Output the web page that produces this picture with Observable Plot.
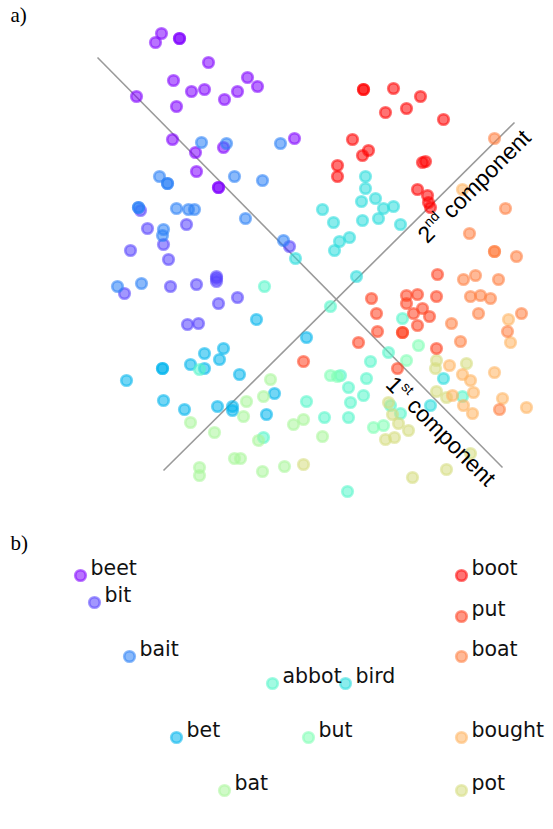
<!DOCTYPE html>
<html><head><meta charset="utf-8">
<script src="https://cdn.jsdelivr.net/npm/d3@7"></script>
<script src="https://cdn.jsdelivr.net/npm/@observablehq/plot@0.6"></script>
<style>
body{margin:0;background:#fff;}
#chart{width:553px;}
#chart svg{display:block;background:#fff;}
</style></head><body><div id="chart"></div>
<script>
// vowel categories (matplotlib "rainbow" order) and their colours
const vowels = ["beet","bit","bait","bet","bird","abbot","but","bat","pot","bought","boat","put","boot"];
const vowelColors = ["#8000ff","#5542fd","#2a80f6","#00b4ec","#2adddd","#55f6ca","#80ffb4","#aaf69b","#d5dd80","#ffb462","#ff8042","#ff4221","#ff0000"];

// panel a: individual tokens, [horizontal, vertical]
const beetTokens = [[161,33],[155,42],[179,38],[179,38],[208,62],[173,80],[191,91],[204,89],[247,77],[257,86],[237,91],[224,99],[176,106],[136,96],[172,139],[195,152],[223,147],[294,138],[196,171],[218,187],[218,187]];
const bitTokens = [[147,228],[130,250],[124,293],[163,244],[168,259],[186,224],[140,210],[170,286],[196,284],[216,276],[216,281],[216,278],[237,297],[218,303],[187,324],[198,323],[289,246]];
const baitTokens = [[201,142],[226,143],[280,143],[159,176],[167,183],[167,183],[234,176],[262,180],[138,207],[138,207],[176,208],[188,209],[194,209],[245,218],[163,229],[162,235],[283,240],[117,286],[141,283]];
const betTokens = [[256,319],[306,337],[126,380],[162,368],[162,368],[190,364],[204,353],[223,348],[219,359],[204,368],[239,374],[163,400],[184,409],[217,406],[232,406],[232,410],[274,393],[266,414]];
const birdTokens = [[365,176],[365,188],[361,201],[375,198],[383,208],[393,206],[322,209],[333,222],[362,220],[378,218],[400,224],[349,237],[339,241],[334,250],[356,276],[295,258],[443,378],[430,405]];
const abbotTokens = [[264,286],[199,369],[306,401],[263,437],[324,417],[330,306],[402,318],[388,352],[370,361],[366,378],[348,387],[363,395],[350,402],[348,417],[347,491],[390,405],[400,413],[462,396],[340,375]];
const butTokens = [[330,375],[337,376],[406,360],[418,345],[373,427],[383,425]];
const batTokens = [[270,379],[263,396],[246,401],[243,416],[190,422],[214,432],[258,440],[293,424],[303,419],[322,436],[234,458],[240,458],[199,467],[199,475],[262,471],[284,466]];
const potTokens = [[303,464],[436,360],[435,368],[466,363],[436,391],[446,397],[385,439],[394,437],[398,423],[408,430],[470,453],[446,469],[412,477],[388,402],[392,414]];
const boughtTokens = [[449,365],[462,374],[470,380],[473,392],[463,405],[472,413],[452,395],[494,372],[502,398],[526,407],[508,319],[510,342],[462,189]];
const boatTokens = [[494,138],[505,208],[469,233],[494,251],[494,251],[516,256],[463,279],[475,275],[498,279],[470,296],[480,295],[490,298],[478,313],[451,323],[460,341],[507,331],[521,313],[499,409]];
const putTokens = [[371,298],[376,313],[377,331],[406,295],[406,303],[417,294],[436,296],[413,313],[422,308],[429,316],[417,325],[402,332],[402,332],[358,342],[436,348],[397,368],[437,274],[303,361]];
const bootTokens = [[363,89],[363,89],[393,88],[420,96],[406,108],[385,112],[443,119],[352,139],[368,150],[362,155],[337,165],[337,176],[422,162],[425,161],[417,189],[427,195],[428,202],[430,207]];
const tokenSets = [beetTokens,bitTokens,baitTokens,betTokens,birdTokens,abbotTokens,butTokens,batTokens,potTokens,boughtTokens,boatTokens,putTokens,bootTokens];

// panel a: the two principal-component axes (end points) and their labels
const axisStart = [[97,57],[163,470]];
const axisEnd = [[502,467],[514,122]];
const axisNames = ["1st component","2nd component"];
const axisLabelAt = [[440,431],[474,186]];
const axisLabelAngle = [45,-45];

// panel b: vowel centroids
const centroidX = [80,94,129,176,345,272,308,224,461,461,461,461,461];
const centroidY = [575,602,656,737,683,683,737,790,790,737,656,616,575];

// ---- build tables
const tokens = tokenSets.flatMap((set, i) => set.map(([x, y]) => ({vowel: vowels[i], x, y})));
const axes = axisStart.map((s, i) => ({x1: s[0], y1: s[1], x2: axisEnd[i][0], y2: axisEnd[i][1]}));
const axisLabels = axisNames.map((t, i) => ({text: t, x: axisLabelAt[i][0], y: axisLabelAt[i][1], angle: axisLabelAngle[i]}));
const centroids = vowels.map((v, i) => ({vowel: v, x: centroidX[i], y: centroidY[i]}));

const color = {domain: vowels, range: vowelColors};
const dotStyle = {r: 5.3, fill: "vowel", stroke: "vowel", fillOpacity: 0.55, strokeOpacity: 0.55, strokeWidth: 2.6};

const panelA = Plot.plot({
  width: 553, height: 505, margin: 0,
  x: {domain: [0, 553], axis: null},
  y: {domain: [0, 505], reverse: true, axis: null},
  color,
  marks: [
    Plot.link(axes, {x1: "x1", y1: "y1", x2: "x2", y2: "y2", stroke: "#9a9a9a", strokeWidth: 1.6}),
    Plot.dot(tokens, {x: "x", y: "y", ...dotStyle}),
    Plot.text(axisLabels, {x: "x", y: "y", text: "text", rotate: "angle", fontSize: 23, fontFamily: "Liberation Sans", fill: "#000", textAnchor: "middle", lineAnchor: "middle"}),
    Plot.text(["a)"], {frameAnchor: "top-left", dx: 10, dy: 7, textAnchor: "start", lineAnchor: "top", fontSize: 21, fontFamily: "Liberation Serif", fill: "#000"})
  ]
});

// superscripts for "1st" / "2nd"
for (const t of panelA.querySelectorAll("text")) {
  const m = t.textContent.match(/^(\d)(st|nd) (component)$/);
  if (!m) continue;
  t.textContent = "";
  const ns = "http://www.w3.org/2000/svg";
  const a = document.createElementNS(ns, "tspan"); a.textContent = m[1];
  const b = document.createElementNS(ns, "tspan"); b.textContent = m[2];
  b.setAttribute("font-size", "14"); b.setAttribute("dy", "-10");
  const c = document.createElementNS(ns, "tspan"); c.textContent = " " + m[3];
  c.setAttribute("dy", "10");
  t.append(a, b, c);
}

const panelB = Plot.plot({
  width: 553, height: 324, margin: 0,
  x: {domain: [0, 553], axis: null},
  y: {domain: [505, 829], reverse: true, axis: null},
  color,
  marks: [
    Plot.dot(centroids, {x: "x", y: "y", ...dotStyle}),
    Plot.text(centroids, {x: "x", y: "y", text: "vowel", textAnchor: "start", dx: 10, dy: -7, fontSize: 20.5, fontFamily: "DejaVu Sans", fill: "#111"}),
    Plot.text(["b)"], {frameAnchor: "top-left", dx: 10, dy: 30, textAnchor: "start", lineAnchor: "top", fontSize: 21, fontFamily: "Liberation Serif", fill: "#000"})
  ]
});

document.getElementById("chart").append(panelA, panelB);
</script></body></html>
